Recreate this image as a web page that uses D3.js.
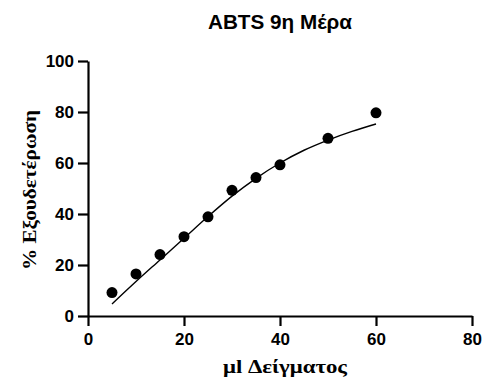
<!DOCTYPE html>
<html>
<head>
<meta charset="utf-8">
<script src="https://cdn.jsdelivr.net/npm/d3@7.9.0/dist/d3.min.js"></script>
<style>
  body { margin: 0; background: #fff; }
  svg { display: block; }
</style>
</head>
<body>
<svg id="chart" width="485" height="385"></svg>
<script>
// measured points
const volumes = [5, 10, 15, 20, 25, 30, 35, 40, 50, 60];
const inhibition = [9.2, 16.5, 24.1, 31.1, 38.9, 49.3, 54.3, 59.3, 69.7, 79.7];

// fitted curve
const fitX = [5, 10, 15, 20, 25, 30, 35, 40, 45, 50, 55, 60];
const fitY = [4.7, 13.5, 22, 30.5, 39, 47, 54, 60, 65, 69, 72.4, 75.3];

const xTicks = [0, 20, 40, 60, 80];
const yTicks = [0, 20, 40, 60, 80, 100];

const svg = d3.select('#chart');

const x = d3.scaleLinear().domain([0, 80]).range([88, 472]);
const y = d3.scaleLinear().domain([0, 100]).range([316, 61]);

// axes
const xAxis = d3.axisBottom(x).tickValues(xTicks).tickSize(10).tickPadding(7).tickSizeOuter(0);
const yAxis = d3.axisLeft(y).tickValues(yTicks).tickSize(10).tickPadding(4).tickSizeOuter(0);

const gx = svg.append('g').attr('transform', `translate(0,${y(0)})`).call(xAxis);
const gy = svg.append('g').attr('transform', `translate(${x(0)},0)`).call(yAxis);

[gx, gy].forEach((g) => {
  g.select('.domain').attr('stroke', '#000').attr('stroke-width', 2.2);
  g.selectAll('.tick line').attr('stroke', '#000').attr('stroke-width', 2.2);
  g.selectAll('.tick text')
    .attr('fill', '#000')
    .style('font-family', 'Liberation Sans, Arial, sans-serif')
    .style('font-weight', 'bold')
    .style('font-size', '17px');
});

// curve
const line = d3.line()
  .x((d) => x(d[0]))
  .y((d) => y(d[1]))
  .curve(d3.curveMonotoneX);

svg.append('path')
  .datum(fitX.map((v, i) => [v, fitY[i]]))
  .attr('d', line)
  .attr('fill', 'none')
  .attr('stroke', '#000')
  .attr('stroke-width', 1.4);

// points
svg.selectAll('circle.pt')
  .data(volumes.map((v, i) => [v, inhibition[i]]))
  .join('circle')
  .attr('class', 'pt')
  .attr('cx', (d) => x(d[0]))
  .attr('cy', (d) => y(d[1]))
  .attr('r', 5.5)
  .attr('fill', '#000');

// title
svg.append('text')
  .attr('x', 280)
  .attr('y', 29)
  .attr('text-anchor', 'middle')
  .attr('textLength', 144)
  .attr('lengthAdjust', 'spacingAndGlyphs')
  .style('font-family', 'Liberation Sans, Arial, sans-serif')
  .style('font-weight', 'bold')
  .style('font-size', '19.5px')
  .text('ABTS 9η Μέρα');

// axis titles
svg.append('text')
  .attr('x', 285)
  .attr('y', 373)
  .attr('text-anchor', 'middle')
  .attr('textLength', 124)
  .attr('lengthAdjust', 'spacingAndGlyphs')
  .style('font-family', 'Liberation Serif, Times New Roman, serif')
  .style('font-weight', 'bold')
  .style('font-size', '19px')
  .text('μl Δείγματος');

svg.append('text')
  .attr('transform', 'translate(36,190) rotate(-90)')
  .attr('text-anchor', 'middle')
  .attr('textLength', 160)
  .attr('lengthAdjust', 'spacingAndGlyphs')
  .style('font-family', 'Liberation Serif, Times New Roman, serif')
  .style('font-weight', 'bold')
  .style('font-size', '18px')
  .text('% Εξουδετέρωση');
</script>
</body>
</html>
